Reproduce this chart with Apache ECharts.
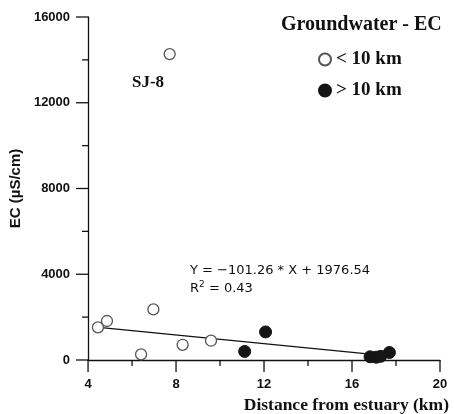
<!DOCTYPE html>
<html><head><meta charset="utf-8">
<script src="https://cdn.jsdelivr.net/npm/echarts@6/dist/echarts.min.js"></script>
<style>html,body{margin:0;padding:0;background:#fff}#c{width:454px;height:414px}</style>
</head><body><div id="c"></div>
<script>
// distance (km), EC (µS/cm)
const nearX = [4.45, 4.86, 6.41, 6.97, 7.71, 8.30, 9.59];
const nearY = [1520, 1820, 260, 2360, 14270, 710, 900];
const farX = [11.12, 12.07, 16.82, 17.10, 17.30, 17.70];
const farY = [400, 1310, 150, 130, 170, 350];
const slope = -101.26, intercept = 1976.54, r2 = 0.43;
const fitX = [4.5, 17.75];
const xTicks = [4, 8, 12, 16, 20];
const xMinorTicks = [6, 10, 14, 18];
const yTicks = [0, 4000, 8000, 12000, 16000];
const yMinorTicks = [2000, 6000, 10000, 14000];
const seriesNames = ['< 10 km', '> 10 km'];

const xMin = xTicks[0], xMax = xTicks[xTicks.length-1];
const yMin = yTicks[0], yMax = yTicks[yTicks.length-1];
// tick marks: [x, y, axis(0=x,1=y), minor(0/1)]
const tickData = [].concat(
  xTicks.map(v => [v, yMin, 0, 0]), xMinorTicks.map(v => [v, yMin, 0, 1]),
  yTicks.map(v => [xMin, v, 1, 0]), yMinorTicks.map(v => [xMin, v, 1, 1])
);

const chart = echarts.init(document.getElementById('c'), null, {renderer: 'canvas'});
const serif = '"Liberation Serif","Times New Roman",serif';
const sans = '"Liberation Sans",Arial,sans-serif';
chart.setOption({
  animation: false,
  backgroundColor: '#fff',
  grid: {left: 88, right: 14, top: 17, bottom: 54},
  legend: {
    orient: 'vertical', left: 313, top: 45, itemGap: 12,
    itemWidth: 12, itemHeight: 12,
    data: [{name: seriesNames[0], icon: 'circle'}, {name: seriesNames[1], icon: 'circle'}],
    textStyle: {fontFamily: serif, fontWeight: 'bold', fontSize: 19, color: '#111'}
  },
  xAxis: {
    type: 'value', min: xMin, max: xMax, interval: 4,
    name: 'Distance from estuary (km)', nameLocation: 'end',
    nameTextStyle: {fontFamily: serif, fontWeight: 'bold', fontSize: 17.5, color: '#111', align: 'right', verticalAlign: 'top', padding: [36, 0, 0, 0]},
    nameGap: 9,
    axisLine: {show: true, lineStyle: {color: '#111', width: 1.3}},
    axisTick: {show: false},
    minorTick: {show: false},
    splitLine: {show: false},
    axisLabel: {fontFamily: sans, fontWeight: 'bold', fontSize: 13, color: '#111', padding: [10, 0, 0, 0]}
  },
  yAxis: {
    type: 'value', min: yMin, max: yMax, interval: 4000,
    name: 'EC (µS/cm)', nameLocation: 'middle', nameGap: 52, nameRotate: 90,
    nameTextStyle: {fontFamily: sans, fontWeight: 'bold', fontSize: 15, color: '#111'},
    axisLine: {show: true, lineStyle: {color: '#111', width: 1.3}},
    axisTick: {show: false},
    minorTick: {show: false},
    splitLine: {show: false},
    axisLabel: {fontFamily: sans, fontWeight: 'bold', fontSize: 13, color: '#111', padding: [0, 10, 0, 0], formatter: v => String(v)}
  },
  series: [
    {
      name: 'ticks', type: 'custom', silent: true, clip: false, z: 1,
      data: tickData,
      renderItem: function (params, api) {
        const p = api.coord([api.value(0), api.value(1)]);
        const len = api.value(3) ? 6 : 12;
        const shape = api.value(2) === 0
          ? {x1: p[0], y1: p[1], x2: p[0], y2: p[1] + len}
          : {x1: p[0], y1: p[1], x2: p[0] - len, y2: p[1]};
        return {type: 'line', shape: shape, style: {stroke: '#111', lineWidth: 1.3}};
      }
    },
    {
      name: seriesNames[0], type: 'scatter', symbol: 'circle', symbolSize: 11,
      itemStyle: {color: '#fff', borderColor: '#555', borderWidth: 1.3, opacity: 1},
      data: nearX.map((x, i) => [x, nearY[i]]), z: 3
    },
    {
      name: seriesNames[1], type: 'scatter', symbol: 'circle', symbolSize: 12,
      itemStyle: {color: '#151515', borderColor: '#151515', borderWidth: 1, opacity: 1},
      data: farX.map((x, i) => [x, farY[i]]), z: 4
    },
    {
      name: 'fit', type: 'line', showSymbol: false, symbol: 'none',
      lineStyle: {color: '#111', width: 1.2},
      data: fitX.map(x => [x, slope * x + intercept]), z: 2, silent: true
    }
  ],
  graphic: [
    {type: 'text', left: 281, top: 15, style: {text: 'Groundwater - EC', font: 'bold 20px ' + serif, fill: '#111'}},
    {type: 'text', left: 132, top: 74, style: {text: 'SJ-8', font: 'bold 17px ' + serif, fill: '#111'}},
    {type: 'text', left: 190, top: 262, style: {
      text: 'Y = ' + String.fromCharCode(8722) + Math.abs(slope).toFixed(2) + ' * X + ' + intercept.toFixed(2) + '\n{b|R}{s|2}{b| = ' + r2.toFixed(2) + '}',
      font: '13px "DejaVu Sans",sans-serif', fill: '#111', lineHeight: 18,
      rich: {b: {fontSize: 13, fontFamily: '"DejaVu Sans",sans-serif', fill: '#111'}, s: {fontSize: 9, fontFamily: '"DejaVu Sans",sans-serif', verticalAlign: 'top', padding: [0,0,6,0], fill: '#111'}}
    }}
  ]
});
</script></body></html>
